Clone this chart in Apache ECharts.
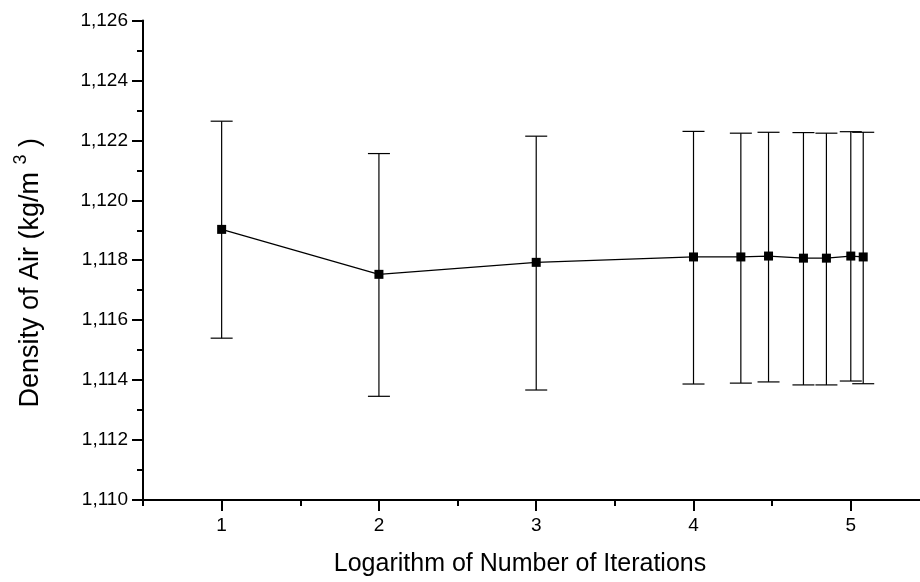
<!DOCTYPE html>
<html>
<head>
<meta charset="utf-8">
<script src="https://cdn.jsdelivr.net/npm/echarts@6/dist/echarts.min.js"></script>
<style>
  html, body { margin: 0; padding: 0; background: #fff; }
  #chart { width: 920px; height: 582px; }
</style>
</head>
<body>
<div id="chart"></div>
<script>
// Logarithm (base 10) of the number of iterations for each run
const logIterations = [1, 2, 3, 4, 4.301, 4.477, 4.699, 4.845, 5, 5.079];
// Mean air density (kg/m^3)
const density = [1.11903, 1.11753, 1.11793, 1.11811, 1.11811, 1.11814, 1.11807, 1.11807, 1.11814, 1.11811];
// Error bar limits
const upperLimit = [1.12264, 1.12156, 1.12214, 1.12230, 1.12224, 1.12227, 1.12226, 1.12224, 1.12229, 1.12227];
const lowerLimit = [1.11540, 1.11346, 1.11367, 1.11387, 1.11390, 1.11394, 1.11384, 1.11384, 1.11397, 1.11388];
// Axis ticks
const xMajorTicks = [1, 2, 3, 4, 5];
const xMinorTicks = [0.5, 1.5, 2.5, 3.5, 4.5];

const FONT = "'Liberation Sans', Arial, sans-serif";

const chart = echarts.init(document.getElementById('chart'), null, { renderer: 'canvas' });

const mainPoints = logIterations.map((x, i) => [x, density[i]]);
const barPoints = logIterations.map((x, i) => [x, lowerLimit[i], upperLimit[i]]);

const option = {
  backgroundColor: '#ffffff',
  animation: false,
  grid: { left: 143, right: 0, top: 20.5, bottom: 82 },
  xAxis: [
    {
      type: 'value',
      min: 0.5,
      max: 5.44,
      interval: 0.5,
      splitLine: { show: false },
      axisLine: { show: true, onZero: false, lineStyle: { color: '#000', width: 2 } },
      axisTick: { show: true, customValues: xMajorTicks, length: 11, lineStyle: { color: '#000', width: 2 } },
      axisLabel: {
        customValues: xMajorTicks,
        margin: 16,
        color: '#000',
        fontSize: 19,
        fontFamily: FONT
      },
      name: 'Logarithm of Number of Iterations',
      nameLocation: 'middle',
      nameGap: 52,
      nameTextStyle: { color: '#000', fontSize: 25, fontFamily: FONT, padding: [0, 23, 0, 0] }
    },
    {
      type: 'value',
      min: 0.5,
      max: 5.44,
      interval: 0.5,
      position: 'bottom',
      splitLine: { show: false },
      axisLine: { show: false },
      axisTick: { show: true, customValues: xMinorTicks, length: 6, lineStyle: { color: '#000', width: 2 } },
      axisLabel: { show: false }
    }
  ],
  yAxis: {
    type: 'value',
    min: 1.110,
    max: 1.126,
    interval: 0.002,
    splitLine: { show: false },
    axisLine: { show: true, lineStyle: { color: '#000', width: 2 } },
    axisTick: { show: true, length: 11, lineStyle: { color: '#000', width: 2 } },
    minorTick: { show: true, splitNumber: 2, length: 6, lineStyle: { color: '#000', width: 2 } },
    minorSplitLine: { show: false },
    axisLabel: {
      margin: 15,
      color: '#000',
      fontSize: 19,
      fontFamily: FONT,
      formatter: v => v.toFixed(3).replace('.', ',')
    },
    name: '{t|Density of Air (kg/m }{s|3}{t| )}',
    nameLocation: 'middle',
    nameGap: 99,
    nameRotate: 90,
    nameTextStyle: {
      color: '#000',
      fontFamily: FONT,
      padding: [0, 25, 0, 0],
      rich: {
        t: { fontSize: 27, fontFamily: FONT, color: '#000', verticalAlign: 'bottom', lineHeight: 32 },
        s: { fontSize: 18, fontFamily: FONT, color: '#000', verticalAlign: 'top', lineHeight: 32 }
      }
    }
  },
  series: [
    {
      type: 'custom',
      name: 'error',
      xAxisIndex: 0,
      yAxisIndex: 0,
      z: 2,
      data: barPoints,
      encode: { x: 0, y: [1, 2] },
      renderItem: function (params, api) {
        const x = api.value(0);
        const lo = api.coord([x, api.value(1)]);
        const hi = api.coord([x, api.value(2)]);
        const half = 11;
        const style = { stroke: '#000', lineWidth: 1.2, fill: null };
        return {
          type: 'group',
          children: [
            { type: 'line', shape: { x1: lo[0], y1: lo[1], x2: hi[0], y2: hi[1] }, style: style },
            { type: 'line', shape: { x1: hi[0] - half, y1: hi[1], x2: hi[0] + half, y2: hi[1] }, style: style },
            { type: 'line', shape: { x1: lo[0] - half, y1: lo[1], x2: lo[0] + half, y2: lo[1] }, style: style }
          ]
        };
      }
    },
    {
      type: 'line',
      name: 'density',
      xAxisIndex: 0,
      yAxisIndex: 0,
      z: 3,
      data: mainPoints,
      symbol: 'rect',
      symbolSize: 9,
      itemStyle: { color: '#000' },
      lineStyle: { color: '#000', width: 1.2 }
    }
  ]
};

chart.setOption(option);
</script>
</body>
</html>
